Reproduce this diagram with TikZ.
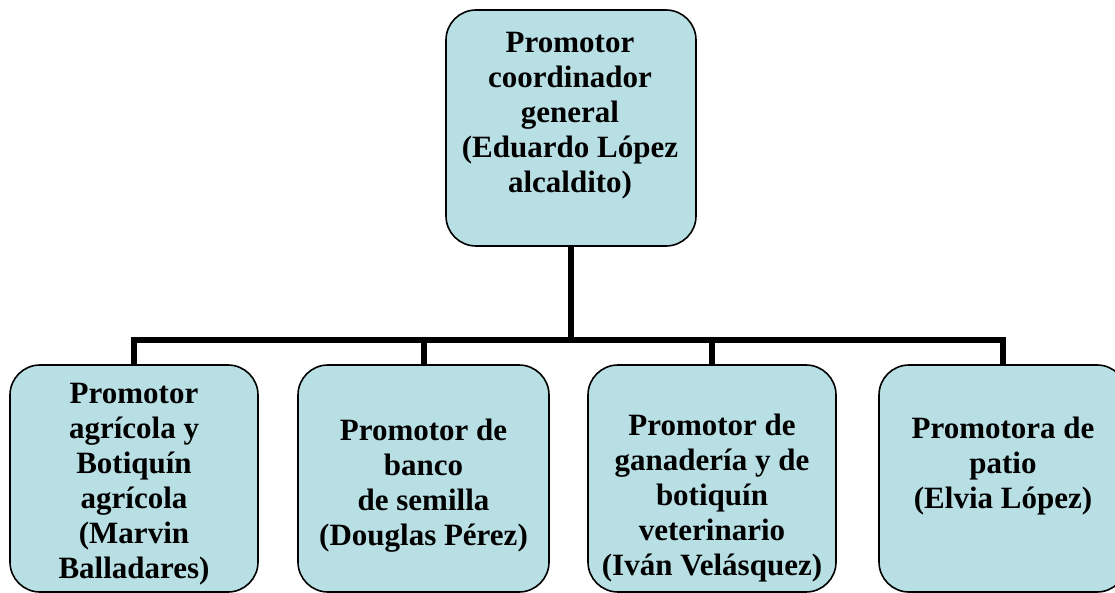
\documentclass[tikz,border=0pt]{standalone}
\usepackage{fontspec}
\setmainfont{Liberation Serif}
\definecolor{boxfill}{HTML}{B8DFE3}
\begin{document}
\begin{tikzpicture}[x=1pt,y=-1pt,
  orgbox/.style={draw=black,line width=1.6pt,fill=boxfill,rounded corners=30pt,
    minimum height=227pt,minimum width=248pt,inner sep=0pt},
  orgtext/.style={align=center,anchor=base,inner sep=0pt,
    font=\bfseries\fontsize{31}{35}\selectfont},
  link/.style={line width=6pt,line join=miter}]
\useasboundingbox (0,0) rectangle (1115,593);
\clip (0,0) rectangle (1115,593);
\node[orgbox,minimum width=250pt,minimum height=236pt] (top) at (571,128) {};
\node[orgbox] (b1) at (134,478.5) {};
\node[orgbox,minimum width=251pt] (b2) at (423.5,478.5) {};
\node[orgbox] (b3) at (712,478.5) {};
\node[orgbox] (b4) at (1003,478.5) {};
\coordinate (j) at (569,339.5);
\draw[link] (top.south) -- (top.south |- j);
\draw[link] (b1.north) -- (b1.north |- j) -- (b4.north |- j) -- (b4.north);
\draw[link] (b2.north) -- (b2.north |- j);
\draw[link] (b3.north) -- (b3.north |- j);
\node[orgtext] (t0) at (570,193) {Promotor\\coordinador\\general\\(Eduardo López\\alcaldito)};
\node[orgtext] (t1) at (134,578) {Promotor\\agrícola y\\Botiquín\\agrícola\\(Marvin\\Balladares)};
\node[orgtext] (t2) at (423.5,545) {Promotor de\\banco\\de semilla\\(Douglas Pérez)};
\node[orgtext] (t3) at (712,575) {Promotor de\\ganadería y de\\botiquín\\veterinario\\(Iván Velásquez)};
\node[orgtext] (t4) at (1003,508) {Promotora de\\patio\\(Elvia López)};
\end{tikzpicture}
\end{document}
